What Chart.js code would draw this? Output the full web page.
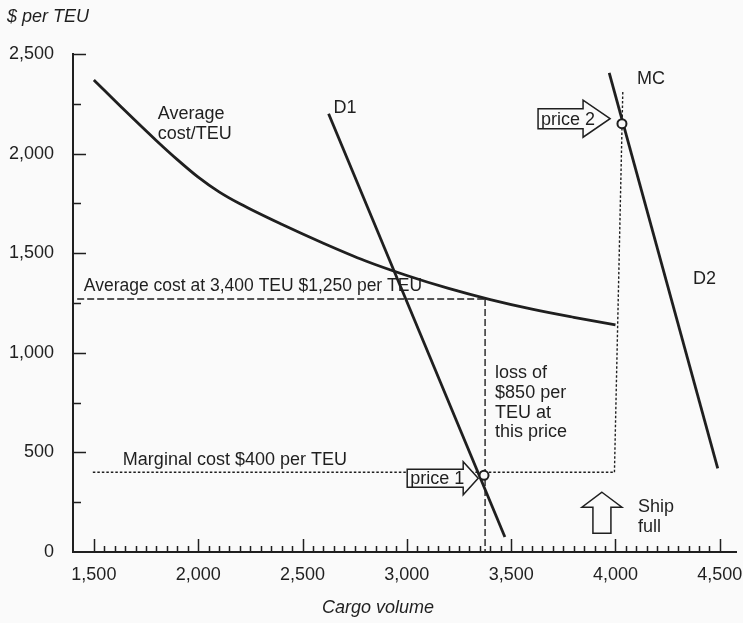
<!DOCTYPE html>
<html>
<head>
<meta charset="utf-8">
<script src="https://cdn.jsdelivr.net/npm/chart.js@4"></script>
<style>
  html, body { margin: 0; padding: 0; background: #fafafa; }
  #wrap { width: 743px; height: 623px; }
</style>
</head>
<body>
<div id="wrap"><canvas id="chart" width="743" height="623"></canvas></div>
<script>
// values: cargo volume (TEU) vs $ per TEU
const acVolume = [1500, 1650, 1800, 1900, 2000, 2100, 2200, 2400, 2600, 2800, 3000, 3200, 3400, 3600, 3800, 4000];
const acCost   = [2370, 2215, 2065, 1970, 1882, 1808, 1748, 1645, 1550, 1462, 1388, 1323, 1267, 1219, 1178, 1140];

const d1Volume = [2625, 3470];
const d1Price  = [2200, 75];
const d2Volume = [3970, 4490];
const d2Price  = [2405, 420];

// dashed guide lines
const acLevelVolume = [1420, 3375];
const acLevelCost   = [1270, 1270];
const acDropVolume  = [3375, 3375];
const acDropCost    = [1270, 0];
const mcLevelVolume = [1495, 3995];
const mcLevelCost   = [400, 400];
const mcRiseVolume  = [3995, 4035];
const mcRiseCost    = [400, 2310];

// price points (circles)
const priceVolume = [3370, 4031];
const priceValue  = [385, 2150];

const xTicks = [1500, 2000, 2500, 3000, 3500, 4000, 4500];
const yTicks = [0, 500, 1000, 1500, 2000, 2500];

const ink = '#1f1f1f';
const FONT = '"Liberation Sans", Arial, Helvetica, sans-serif';
Chart.defaults.font.family = FONT;
Chart.defaults.color = ink;

const toPts = (xs, ys) => xs.map((x, i) => ({ x: x, y: ys[i] }));

function curve(label, xs, ys, extra) {
  return Object.assign({
    label: label,
    data: toPts(xs, ys),
    showLine: true,
    borderColor: ink,
    borderWidth: 2.8,
    pointRadius: 0,
    order: 2
  }, extra || {});
}

function guide(label, xs, ys, dash) {
  return {
    label: label,
    guide: true,
    data: toPts(xs, ys),
    showLine: true,
    borderColor: ink,
    borderWidth: 1.4,
    borderDash: dash,
    pointRadius: 0,
    order: 3
  };
}

// text notes, anchored in data units
const notes = [
  { t: 'Average', x: 1806, y: 2200 },
  { t: 'cost/TEU', x: 1806, y: 2100 },
  { t: 'D1', x: 2648, y: 2230 },
  { t: 'MC', x: 4103, y: 2375 },
  { t: 'D2', x: 4371, y: 1370 },
  { t: 'Average cost at 3,400 TEU $1,250 per TEU', x: 1452, y: 1335, size: 17.5 },
  { t: 'Marginal cost $400 per TEU', x: 1639, y: 460 },
  { t: 'loss of', x: 3423, y: 900 },
  { t: '$850 per', x: 3423, y: 800 },
  { t: 'TEU at', x: 3423, y: 700 },
  { t: 'this price', x: 3423, y: 600 },
  { t: 'Ship', x: 4108, y: 225 },
  { t: 'full', x: 4108, y: 125 }
];

// block arrows: tip in data units, shape in pixels
const arrows = [
  { dir: 'right', x: 3342, y: 370, text: 'price 1', headLen: 15, headW: 33, shaftW: 18, shaftLen: 56 },
  { dir: 'right', x: 3974, y: 2175, text: 'price 2', headLen: 27, headW: 37, shaftW: 20, shaftLen: 45 },
  { dir: 'up', x: 3935, y: 300, headLen: 15, headW: 40, shaftW: 18, shaftLen: 26 }
];

function drawArrows(chart) {
  const ctx = chart.ctx, xs = chart.scales.x, ys = chart.scales.y;
  ctx.save();
  ctx.lineWidth = 1.5;
  ctx.strokeStyle = ink;
  ctx.fillStyle = '#fafafa';
  arrows.forEach(a => {
    const tx = xs.getPixelForValue(a.x), ty = ys.getPixelForValue(a.y);
    const hl = a.headLen, hw = a.headW / 2, sw = a.shaftW / 2, sl = a.shaftLen;
    ctx.beginPath();
    if (a.dir === 'right') {
      ctx.moveTo(tx, ty);
      ctx.lineTo(tx - hl, ty - hw);
      ctx.lineTo(tx - hl, ty - sw);
      ctx.lineTo(tx - hl - sl, ty - sw);
      ctx.lineTo(tx - hl - sl, ty + sw);
      ctx.lineTo(tx - hl, ty + sw);
      ctx.lineTo(tx - hl, ty + hw);
    } else {
      ctx.moveTo(tx, ty);
      ctx.lineTo(tx + hw, ty + hl);
      ctx.lineTo(tx + sw, ty + hl);
      ctx.lineTo(tx + sw, ty + hl + sl);
      ctx.lineTo(tx - sw, ty + hl + sl);
      ctx.lineTo(tx - sw, ty + hl);
      ctx.lineTo(tx - hw, ty + hl);
    }
    ctx.closePath();
    ctx.fill();
    ctx.stroke();
    if (a.text) {
      ctx.fillStyle = ink;
      ctx.font = '18px ' + FONT;
      ctx.textBaseline = 'middle';
      ctx.textAlign = 'left';
      ctx.fillText(a.text, tx - hl - sl + 3, ty + 1);
      ctx.fillStyle = '#fafafa';
    }
  });
  ctx.restore();
}

const overlay = {
  id: 'overlay',
  beforeDatasetsDraw(chart) { chart.$arrowsDone = false; },
  beforeDatasetDraw(chart, args) {
    const ds = chart.data.datasets[args.index];
    if (!ds.guide && !chart.$arrowsDone) {
      drawArrows(chart);
      chart.$arrowsDone = true;
    }
  },
  afterDatasetsDraw(chart) {
    const ctx = chart.ctx, xs = chart.scales.x, ys = chart.scales.y;
    const area = chart.chartArea;
    ctx.save();
    // inward tick marks
    ctx.strokeStyle = ink;
    ctx.lineWidth = 1.5;
    ctx.beginPath();
    for (let v = 1500; v <= 4500; v += 50) {
      const px = Math.round(xs.getPixelForValue(v)) + 0.5;
      const len = v % 500 === 0 ? 13 : 6;
      ctx.moveTo(px, area.bottom);
      ctx.lineTo(px, area.bottom - len);
    }
    for (let v = 250; v <= 2500; v += 250) {
      const py = Math.round(ys.getPixelForValue(v)) + 0.5;
      const len = v % 500 === 0 ? 13 : 8;
      ctx.moveTo(area.left, py);
      ctx.lineTo(area.left + len, py);
    }
    ctx.stroke();

    // notes
    ctx.fillStyle = ink;
    ctx.textBaseline = 'middle';
    ctx.textAlign = 'left';
    notes.forEach(n => {
      ctx.font = (n.size || 18) + 'px ' + FONT;
      ctx.fillText(n.t, xs.getPixelForValue(n.x), ys.getPixelForValue(n.y));
    });

    // axis titles
    ctx.font = 'italic 18px ' + FONT;
    ctx.fillText('$ per TEU', 7, 17);
    ctx.fillText('Cargo volume', 322, 608);
    ctx.restore();
  }
};

new Chart(document.getElementById('chart'), {
  type: 'scatter',
  data: {
    datasets: [
      { label: 'Prices', data: toPts(priceVolume, priceValue), showLine: false,
        pointRadius: 4.5, pointBorderWidth: 2, pointBackgroundColor: '#fafafa',
        pointBorderColor: ink, order: 1 },
      curve('Average cost/TEU', acVolume, acCost, { cubicInterpolationMode: 'monotone' }),
      curve('D1', d1Volume, d1Price),
      curve('D2', d2Volume, d2Price),
      guide('Average cost level', acLevelVolume, acLevelCost, [7, 3]),
      guide('Average cost drop', acDropVolume, acDropCost, [7, 3]),
      guide('Marginal cost level', mcLevelVolume, mcLevelCost, [2.5, 2]),
      guide('Marginal cost rise', mcRiseVolume, mcRiseCost, [2.5, 2])
    ]
  },
  options: {
    responsive: false,
    animation: false,
    events: [],
    layout: { padding: { top: 54, right: 5, left: 0, bottom: 0 } },
    plugins: { legend: { display: false }, tooltip: { enabled: false }, title: { display: false } },
    scales: {
      x: {
        type: 'linear',
        min: 1400,
        max: 4580,
        afterBuildTicks: s => { s.ticks = xTicks.map(v => ({ value: v })); },
        afterFit: s => { s.height = 71; s.paddingLeft = 0; s.paddingRight = 0; },
        grid: { display: false, drawTicks: false },
        border: { display: true, color: ink, width: 2 },
        ticks: {
          padding: 12,
          maxRotation: 0,
          autoSkip: false,
          font: { size: 18 },
          color: ink,
          callback: v => v.toLocaleString('en-US')
        }
      },
      y: {
        type: 'linear',
        min: 0,
        max: 2500,
        afterBuildTicks: s => { s.ticks = yTicks.map(v => ({ value: v })); },
        afterFit: s => { s.width = 73; },
        grid: { display: false, drawTicks: false },
        border: { display: true, color: ink, width: 2 },
        ticks: {
          padding: 19,
          autoSkip: false,
          font: { size: 18 },
          color: ink,
          callback: v => v.toLocaleString('en-US')
        }
      }
    }
  },
  plugins: [overlay]
});
</script>
</body>
</html>
